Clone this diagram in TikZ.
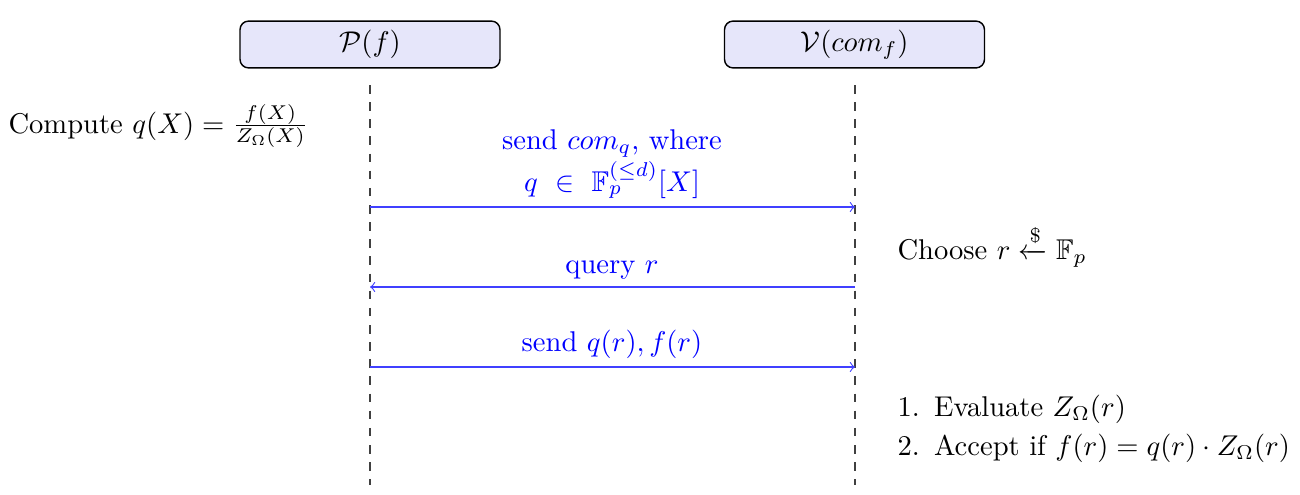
\documentclass[tikz,border=0pt]{standalone}
\usepackage{amsmath,amssymb}
\definecolor{boxfill}{RGB}{230,230,250}
\begin{document}
\begin{tikzpicture}[x=0.35pt,y=-0.35pt,
  actor/.style={draw=black, line width=0.5pt, fill=boxfill, rounded corners=3pt,
    minimum width=91pt, minimum height=16.4pt, inner sep=0pt},
  lifeline/.style={dashed, line width=0.4pt, black!75},
  msg/.style={->, blue!75, line width=0.4pt},
  lbl/.style={text=blue, inner sep=0pt, anchor=base},
  txt/.style={inner sep=0pt, anchor=base west}]
\useasboundingbox (0,0) rectangle (1300,494);
\node[actor] (P) at (370,44.5) {$\mathcal{P}(f)$};
\node[actor] (V) at (854.5,44.5) {$\mathcal{V}(com_f)$};
\coordinate (pt) at (370,85); \coordinate (pb) at (370,485);
\coordinate (vt) at (855,85); \coordinate (vb) at (855,485);
\draw[lifeline] (pt) -- (pb);
\draw[lifeline] (vt) -- (vb);
\coordinate (p1) at (370,207); \coordinate (v1) at (855,207);
\coordinate (p2) at (370,287); \coordinate (v2) at (855,287);
\coordinate (p3) at (370,367); \coordinate (v3) at (855,367);
\draw[msg] (p1) -- (v1);
\draw[msg] (v2) -- (p2);
\draw[msg] (p3) -- (v3);
\node[lbl] (l1a) at (612,149) {send $com_q$, where};
\node[lbl] (l1b) at (612,191) {$q\ \in\ \mathbb{F}_p^{(\leq d)}[X]$};
\node[lbl] (l2) at (612,273) {query $r$};
\node[lbl] (l3) at (612,351) {send $q(r), f(r)$};
\node[txt] (comp) at (8,133) {Compute $q(X) = \frac{f(X)}{Z_\Omega(X)}$};
\node[txt] (choose) at (897,259) {Choose $r \xleftarrow{\$} \mathbb{F}_p$};
\node[txt] (e1) at (897,416) {1.\enspace Evaluate $Z_\Omega(r)$};
\node[txt] (e2) at (897,455) {2.\enspace Accept if $f(r) = q(r)\cdot Z_\Omega(r)$};
\end{tikzpicture}
\end{document}
